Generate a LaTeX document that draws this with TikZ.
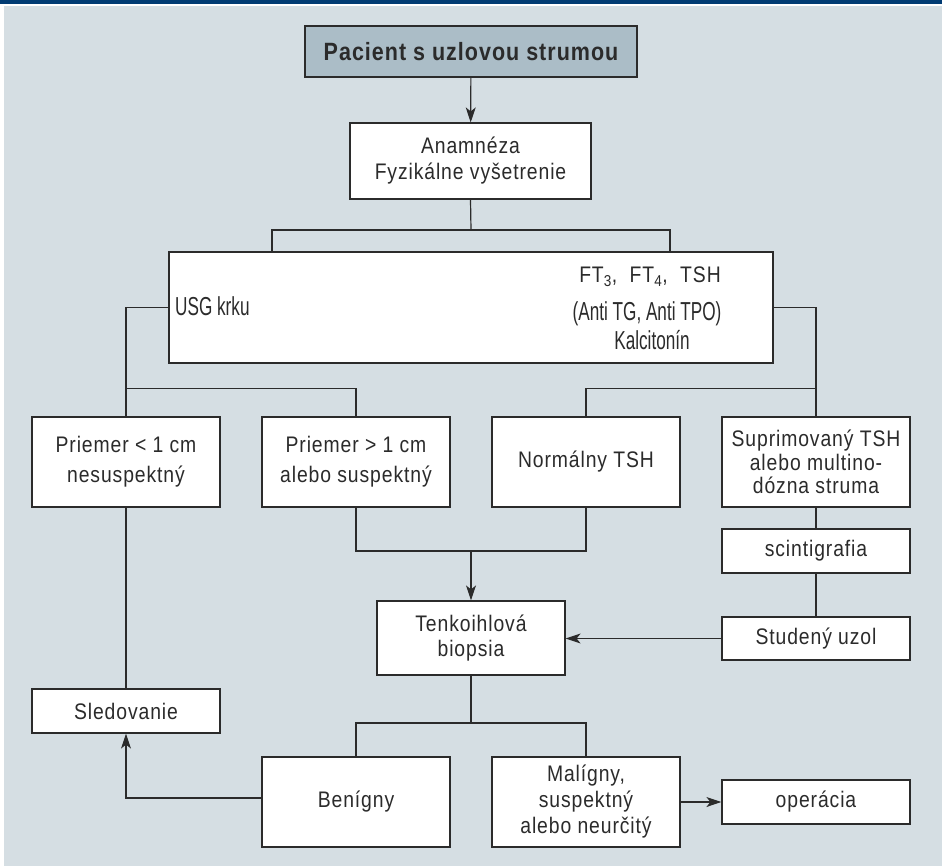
\documentclass[tikz,border=0pt]{standalone}
\usepackage{fontspec}
\setmainfont{Liberation Sans}[FakeStretch=0.86,LetterSpace=4]
\newfontfamily\narrowfont{Liberation Sans}[FakeStretch=0.66]
\usetikzlibrary{arrows.meta,positioning,calc}
\definecolor{bgblue}{HTML}{D5DEE3}
\definecolor{titleblue}{HTML}{ABBDC7}
\definecolor{hdrblue}{HTML}{003B73}
\definecolor{inkgray}{HTML}{2B2B2B}

\begin{document}
\begin{tikzpicture}[x=1pt,y=-1pt,
  box/.style={draw=inkgray, line width=1.2pt, fill=white, inner sep=0pt, minimum width=188pt,
    align=center, text=inkgray, font=\fontsize{22.5}{26}\selectfont},
  labtext/.style={text=inkgray, inner sep=0pt},
  conn/.style={draw=inkgray, line width=1.2pt},
  arr/.style={conn, -{Stealth[length=15pt,width=10pt,inset=4pt]}}]

\useasboundingbox (0,0) rectangle (942,866);
\fill[hdrblue] (0,0) rectangle (942,4.5);
\fill[bgblue] (4,6.5) rectangle (942,866);

\node[box, fill=titleblue, minimum width=332pt, minimum height=51pt,
  font=\fontsize{25}{28}\selectfont\bfseries] (title) at (471,51.5) {Pacient s uzlovou strumou};
\node[box, minimum width=241pt, minimum height=76pt] (anam) at (470.5,161) {Anamnéza\\Fyzikálne vyšetrenie};

\node[box, minimum width=604pt, minimum height=111pt] (tests) at (471,307.5) {};
\node[labtext, anchor=base west, font=\narrowfont\fontsize{26}{30}\selectfont] (usg) at (175,316) {USG krku};
\node[labtext, anchor=base, font=\fontsize{22.5}{26}\selectfont] (labA) at (650,283) {FT\textsubscript{3}, \ FT\textsubscript{4}, \ TSH};
\node[labtext, anchor=base, font=\narrowfont\fontsize{26}{30}\selectfont] (labB) at (647,321) {(Anti TG, Anti TPO)};
\node[labtext, anchor=base, font=\narrowfont\fontsize{26}{30}\selectfont] (labC) at (652,350) {Kalcitonín};

\node[box, minimum height=90pt, font=\fontsize{22.5}{30}\selectfont] (p1) at (126,462) {Priemer < 1 cm\\nesuspektný};
\node[box, minimum height=90pt, font=\fontsize{22.5}{30}\selectfont] (p2) at (356,462) {Priemer > 1 cm\\alebo suspektný};
\node[box, minimum height=90pt] (norm) at (586,462) {Normálny TSH};
\node[box, minimum height=90pt, font=\fontsize{22.5}{23.5}\selectfont] (supp) at (816,462) {Suprimovaný TSH\\alebo multino-\\dózna struma};
\node[box, minimum height=44pt] (scin) at (816,551) {scintigrafia};
\node[box, minimum height=74pt, font=\fontsize{22.5}{25}\selectfont] (tab) at (471,638) {Tenkoihlová\\biopsia};
\node[box, minimum height=43pt] (stud) at (816,638.5) {Studený uzol};
\node[box, minimum height=44pt] (sled) at (126,711) {Sledovanie};
\node[box, minimum height=90pt] (ben) at (356,802) {Benígny};
\node[box, minimum height=90pt] (mal) at (586,802) {Malígny,\\suspektný\\alebo neurčitý};
\node[box, minimum height=44pt] (oper) at (816,802) {operácia};

\coordinate (sA) at (471,230);
\coordinate (sB) at (471,551);
\coordinate (sC) at (471,723);

\draw[arr] (title) -- (anam);
\draw[conn] (anam.south) -- (sA);
\draw[conn] ([xshift=-199pt]tests.north) |- (sA) -| ([xshift=199pt]tests.north);
\draw[conn] (tests.west) -| (p1.north);
\draw[conn] ([yshift=28pt]p1.north) -| (p2.north);
\draw[conn] (tests.east) -| (supp.north);
\draw[conn] ([yshift=28pt]supp.north) -| (norm.north);
\draw[conn] (p2.south) |- (sB) -| (norm.south);
\draw[arr] (sB) -- (tab.north);
\draw[conn] (supp) -- (scin);
\draw[conn] (scin) -- (stud);
\draw[arr] (stud.west) -- (stud.west -| tab.east);
\draw[conn] (tab.south) -- (sC);
\draw[conn] (ben.north) |- (sC) -| (mal.north);
\draw[conn] (p1) -- (sled);
\draw[arr] ([yshift=4pt]ben.west) -| (sled.south);
\draw[arr] (mal) -- (oper);
\end{tikzpicture}
\end{document}
